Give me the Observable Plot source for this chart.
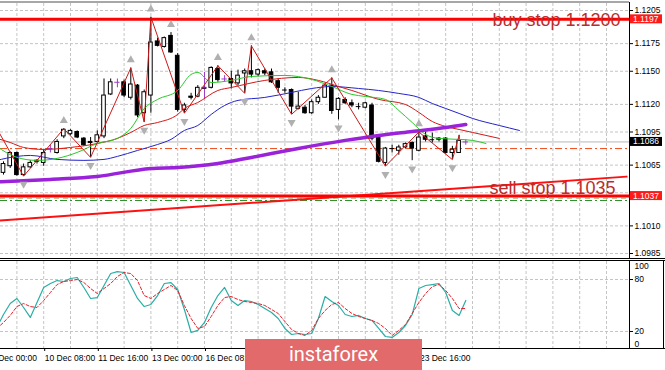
<!DOCTYPE html>
<html><head><meta charset="utf-8">
<script src="https://cdn.jsdelivr.net/npm/d3@7"></script>
<script src="https://cdn.jsdelivr.net/npm/@observablehq/plot@0.6"></script>
<style>
html,body{margin:0;padding:0;background:#fff;}
#wrap{position:relative;width:665px;height:370px;overflow:hidden;background:#fff;}
#main,#sub{position:absolute;left:0;}
#main{top:0;} #sub{top:258px;}
#banner{position:absolute;left:245px;top:339px;width:177px;height:31px;background:#e26a6a;color:#fff;font:20px Roboto,"Open Sans",sans-serif;text-align:center;line-height:30px;}
</style></head><body>
<div id="wrap"><div id="main"></div><div id="sub"></div><div id="banner">instaforex</div></div>
<script>
// ---- data ----
const barIdx = d3.range(2, 72); // bar numbers (H4 bars since 9 Dec 00:00)
const openP = [1.1058,1.1064,1.1076,1.1056,1.1063,1.1068,1.1067,1.1080,1.1076,1.1091,
1.1093,1.1095,1.1089,1.1086,1.1086,1.1091,1.1129,1.1140,1.1140,1.1126,
1.1137,1.1112,1.1128,1.1177,1.1172,1.1182,1.1164,1.1115,1.1127,1.1127,
1.1134,1.1135,1.1152,1.1143,1.1143,1.1139,1.1148,1.1150,1.1147,1.1150,
1.1149,1.1141,1.1133,1.1133,1.1116,1.1117,1.1112,1.1122,1.1126,1.1137,
1.1115,1.1124,1.1121,1.1118,1.1117,1.1119,1.1090,1.1067,1.1080,1.1078,
1.1081,1.1085,1.1078,1.1091,1.1088,1.1088,1.1089,1.1076,1.1076,1.1086];
const highP = [1.1068,1.1077,1.1077,1.1066,1.1069,1.1070,1.1079,1.1083,1.1088,1.1098,
1.1097,1.1096,1.1090,1.1090,1.1096,1.1143,1.1143,1.1143,1.1142,1.1153,
1.1138,1.1133,1.1199,1.1180,1.1181,1.1185,1.1166,1.1121,1.1130,1.1137,
1.1149,1.1154,1.1155,1.1146,1.1150,1.1151,1.1152,1.1173,1.1152,1.1152,
1.1152,1.1143,1.1135,1.1134,1.1131,1.1119,1.1124,1.1128,1.1139,1.1144,
1.1126,1.1126,1.1124,1.1121,1.1122,1.1121,1.1092,1.1081,1.1083,1.1083,
1.1085,1.1086,1.1095,1.1095,1.1094,1.1090,1.1090,1.1082,1.1092,1.1088];
const lowP = [1.1056,1.1062,1.1055,1.1055,1.1062,1.1066,1.1064,1.1076,1.1075,1.1089,
1.1092,1.1089,1.1082,1.1072,1.1085,1.1089,1.1128,1.1135,1.1126,1.1124,
1.1108,1.1104,1.1112,1.1172,1.1171,1.1166,1.1113,1.1112,1.1124,1.1126,
1.1125,1.1134,1.1140,1.1140,1.1134,1.1137,1.1130,1.1144,1.1145,1.1146,
1.1139,1.1130,1.1130,1.1111,1.1115,1.1111,1.1111,1.1120,1.1126,1.1111,
1.1106,1.1120,1.1117,1.1115,1.1116,1.1087,1.1067,1.1064,1.1076,1.1074,
1.1080,1.1069,1.1077,1.1086,1.1085,1.1086,1.1075,1.1070,1.1076,1.1083];
const closeP = [1.1066,1.1076,1.1056,1.1063,1.1067,1.1069,1.1076,1.1080,1.1086,1.1097,
1.1096,1.1090,1.1083,1.1085,1.1092,1.1128,1.1140,1.1140,1.1128,1.1138,
1.1110,1.1131,1.1176,1.1173,1.1180,1.1167,1.1115,1.1119,1.1126,1.1135,
1.1135,1.1153,1.1142,1.1143,1.1139,1.1146,1.1150,1.1147,1.1151,1.1148,
1.1140,1.1135,1.1133,1.1118,1.1118,1.1112,1.1122,1.1126,1.1137,1.1114,
1.1125,1.1121,1.1119,1.1118,1.1121,1.1089,1.1068,1.1080,1.1080,1.1081,
1.1084,1.1080,1.1090,1.1088,1.1088,1.1089,1.1076,1.1079,1.1087,1.1086];
const crossBars = [9, 19, 32, 35, 71];

const lipsIdx = [1,4,7,10,13,16,19,21,23,25,28,30,31,33,36,39,44,48,51,54,56,59,61,63,65,67,70,72,74];
const lipsVal = [1.10819,1.10720,1.10693,1.10711,1.10765,1.10846,1.10892,1.10982,1.11163,1.11245,1.11326,1.11471,1.11489,1.11398,1.11417,1.11453,1.11462,1.11426,1.11362,1.11290,1.11272,1.11245,1.11145,1.11036,1.10928,1.10892,1.10883,1.10874,1.10846];
const teethIdx = [1,3,5,8,12,16,19,21,23,25,28,29,31,34,36,41,46,49,52,54,58,62,64,66,68,70,72,76];
const teethVal = [1.10892,1.10855,1.10810,1.10792,1.10810,1.10846,1.10892,1.10946,1.11009,1.11036,1.11109,1.11163,1.11217,1.11326,1.11353,1.11417,1.11444,1.11417,1.11362,1.11326,1.11245,1.11199,1.11127,1.11045,1.11000,1.10973,1.10946,1.10892];
const jawIdx = [1,4,6,10,14,17,19,22,25,27,29,31,33,35,37,41,45,48,51,55,58,61,64,66,68,70,72,76,79];
const jawVal = [1.10693,1.10729,1.10738,1.10702,1.10693,1.10702,1.10729,1.10783,1.10837,1.10883,1.10964,1.11009,1.11109,1.11190,1.11236,1.11263,1.11308,1.11344,1.11362,1.11344,1.11326,1.11299,1.11263,1.11208,1.11163,1.11118,1.11073,1.11009,1.10964];
const maIdx = [1,9,16,24,28,34,39,46,53,58,63,68,71];
const maVal = [1.10498,1.10521,1.10548,1.10620,1.10629,1.10665,1.10720,1.10801,1.10874,1.10919,1.10955,1.10991,1.11018];
const zzIdx = [0,5,11,15,21,23,24,29,34,38,39,45,51,59,64,69,70];
const zzVal = [1.1109,1.1055,1.1098,1.1072,1.1153,1.1104,1.1199,1.1112,1.1155,1.1130,1.1173,1.1111,1.1144,1.1064,1.1095,1.1070,1.1092];
const fracUp = [11,21,24,27,34,39,51,64];
const fracDn = [5,15,23,29,38,45,52,59,63,69];
const trendIdx = [0, 95];
const trendVal = [1.10143, 1.10546];

const buyStop = 1.1197, sellStop = 1.1037, bidLevel = 1.1086;
const dashLevel = 1.1080, oliveLevel = 1.1035, greenLevel = 1.1033;
const priceGrid = [1.1205,1.1175,1.1150,1.1120,1.1095,1.1065,1.1040,1.1010,1.0985];
const priceLabels = [1.1205,1.1175,1.1150,1.1120,1.1095,1.1065,1.1010,1.0985];
const gridIdx = d3.range(0, 96, 4);
// date labels visible in the picture (the others lie under the banner)
const dateIdx = [0,8,16,24,32,64];
const dateLbl = ["9 Dec 00:00","10 Dec 08:00","11 Dec 16:00","13 Dec 00:00","16 Dec 08:00","23 Dec 16:00"];

const stochIdx = d3.range(1, 72);
const stochK = [24.6,39.6,52.3,58.1,47.7,36.2,53.5,70.8,75.4,78.8,77.7,
81.2,82.3,70.8,58.1,59.2,73.1,86.9,89.2,88.1,73.1,
58.1,48.8,51.2,61.5,75.4,76.5,68.5,45.4,18.8,21.2,
30.4,47.7,61.5,70.8,55.8,50,55.8,54.6,51.2,46.5,
41.9,35,23.5,16.5,17.7,16.5,17.7,35,60.4,54.6,
50,39.6,37.3,38.5,35,32.7,23.5,14.2,13.1,18.8,
26.9,39.6,69.6,73.1,74.2,75.4,65,44.2,38.5,55.8];
const stochD = [23.5,30.4,38.5,48.8,52.3,48.8,47.7,55.8,65,74.2,77.7,
78.8,80,76.5,69.6,63.8,69.6,75.4,83.5,88.1,86.9,
78.8,61.5,58.1,63.8,68.5,73.1,67.3,50,35,23.5,
25.8,37.3,50,59.2,60.4,56.9,54.6,53.5,52.3,50,
45.4,40.8,31.5,22.3,17.7,15.4,21.2,35,44.2,51.2,
53.5,46.5,40.8,37.3,35,32.7,29.2,23.5,15.4,21.2,
28.1,40.8,53.5,63.8,71.9,74.2,67.3,58.1,46.5,46.5];

// ---- tables ----
const bars = barIdx.map((i, j) => ({i, o: openP[j], h: highP[j], l: lowP[j], c: closeP[j]}));
const isCross = d => crossBars.includes(d.i);
const isDoji = d => Math.abs(d.c - d.o) < 0.00005;
const pts = (idx, val) => idx.map((i, j) => ({i, v: val[j]}));
const byI = new Map(bars.map(d => [d.i, d]));
const PURPLE = "#a03cc8";
const grid = {stroke: "#c4c4c4", strokeOpacity: 1, strokeDasharray: "3,2"};
const X = {domain: [0, 95], range: [-10.4, 626.1], axis: null};
const font = "'Liberation Sans', Arial, sans-serif";

const main = Plot.plot({
  width: 665, height: 260,
  marginLeft: 0, marginRight: 36, marginTop: 3, marginBottom: 2,
  x: X,
  y: {domain: [1.0985, 1.1205], range: [253, 10], label: null},
  style: {fontFamily: font, fontSize: "8.5px", color: "#000", background: "#fff"},
  marks: [
    Plot.gridY(priceGrid, grid),
    Plot.gridX(gridIdx, {...grid, clip: true}),
    Plot.ruleY([bidLevel], {stroke: "#b8b8b8"}),
    Plot.ruleY([dashLevel], {stroke: "#f04a1a", strokeDasharray: "7,3,2,3"}),
    Plot.ruleY([oliveLevel], {stroke: "#b4ac7c", strokeDasharray: "5,4"}),
    Plot.ruleY([greenLevel], {stroke: "#2a8f2a", strokeDasharray: "7,3,2,3"}),
    Plot.line(pts(trendIdx, trendVal), {x: "i", y: "v", stroke: "#ff1010", strokeWidth: 2, clip: true}),
    Plot.ruleY([buyStop], {stroke: "#ff0000", strokeWidth: 3}),
    Plot.ruleY([sellStop], {stroke: "#ff0000", strokeWidth: 3}),
    // candles
    Plot.ruleX(bars.filter(d => !isCross(d)), {x: "i", y1: "l", y2: "h", stroke: "#000"}),
    Plot.ruleX(bars.filter(isCross), {x: "i", y1: "l", y2: "h", stroke: PURPLE}),
    Plot.rect(bars.filter(d => !isDoji(d) && d.c > d.o), {x1: d => d.i - 0.27, x2: d => d.i + 0.27, y1: "o", y2: "c", fill: "#fff", stroke: "#000"}),
    Plot.rect(bars.filter(d => !isDoji(d) && d.c < d.o), {x1: d => d.i - 0.27, x2: d => d.i + 0.27, y1: "o", y2: "c", fill: "#000", stroke: "#000"}),
    Plot.ruleY(bars.filter(d => isDoji(d) && !isCross(d)), {y: "c", x1: d => d.i - 0.35, x2: d => d.i + 0.35, stroke: "#000"}),
    Plot.ruleY(bars.filter(isCross), {y: "c", x1: d => d.i - 0.4, x2: d => d.i + 0.4, stroke: PURPLE}),
    // indicators
    Plot.line(pts(jawIdx, jawVal), {x: "i", y: "v", stroke: "#2424c8", strokeWidth: 1, curve: "monotone-x", clip: true}),
    Plot.line(pts(teethIdx, teethVal), {x: "i", y: "v", stroke: "#d41818", strokeWidth: 1, curve: "monotone-x", clip: true}),
    Plot.line(pts(lipsIdx, lipsVal), {x: "i", y: "v", stroke: "#28c828", strokeWidth: 1, curve: "monotone-x", clip: true}),
    Plot.line(pts(maIdx, maVal), {x: "i", y: "v", stroke: "#9a22d8", strokeWidth: 3.5, curve: "monotone-x", clip: true}),
    Plot.line(pts(zzIdx, zzVal), {x: "i", y: "v", stroke: "#cc1818", strokeWidth: 1, clip: true}),
    Plot.dot(fracUp.map(i => byI.get(i)), {x: "i", y: "h", dy: -8, symbol: "triangle", r: 3, fill: "#b0b0b0"}),
    Plot.dot(fracDn.map(i => byI.get(i)), {x: "i", y: "l", dy: 8, symbol: "triangle", rotate: 180, r: 3, fill: "#b0b0b0"}),
    Plot.text([{v: buyStop, t: "buy stop 1.1200"}], {y: "v", text: "t", frameAnchor: "right", textAnchor: "end", dx: -9, dy: 1, fontSize: 18, fill: "#bb2c2c"}),
    Plot.text([{v: sellStop, t: "sell stop 1.1035"}], {y: "v", text: "t", frameAnchor: "right", textAnchor: "end", dx: -14, dy: -7.4, fontSize: 18, fill: "#bb2c2c"}),
    Plot.axisY(priceLabels, {anchor: "right", tickSize: 3, tickPadding: 2, tickFormat: d => d.toFixed(4), fontSize: 8.5, label: null})
  ]
});
document.getElementById("main").append(main);

// price boxes and window frame
{
  const yS = main.scale("y");
  const svg = d3.select(main);
  const boxes = [{v: buyStop, bg: "#ff1a1a"}, {v: sellStop, bg: "#ff1a1a"}, {v: bidLevel, bg: "#000"}];
  for (const b of boxes) {
    const y = yS.apply(b.v);
    svg.append("rect").attr("x", 630).attr("y", y - 4.5).attr("width", 32).attr("height", 9).attr("fill", b.bg);
    svg.append("text").attr("x", 633).attr("y", y + 3).attr("text-anchor", "start").attr("fill", "#fff")
      .attr("font-size", 8.5).attr("font-family", font).text(b.v.toFixed(4));
  }
  svg.append("line").attr("x1", 0).attr("x2", 629).attr("y1", 2).attr("y2", 2).attr("stroke", "#8a8a8a").attr("stroke-width", 1.5);
  svg.append("line").attr("x1", 629.5).attr("x2", 629.5).attr("y1", 2).attr("y2", 258).attr("stroke", "#000");
  svg.append("line").attr("x1", 0).attr("x2", 665).attr("y1", 258.5).attr("y2", 258.5).attr("stroke", "#000");
}

const sub = Plot.plot({
  width: 665, height: 112,
  marginLeft: 0, marginRight: 36, marginTop: 3, marginBottom: 22,
  x: {domain: [0, 95], range: [-10.4, 626.1]},
  y: {domain: [0, 100], range: [90.3, 3.7], label: null},
  style: {fontFamily: font, fontSize: "8.5px", color: "#000", background: "transparent"},
  marks: [
    Plot.gridY([20, 80], grid),
    Plot.gridX(gridIdx, {...grid, clip: true}),
    Plot.line(pts(stochIdx, stochK), {x: "i", y: "v", stroke: "#2aaea6", strokeWidth: 1.2, clip: true}),
    Plot.line(pts(stochIdx, stochD), {x: "i", y: "v", stroke: "#e8202a", strokeWidth: 1, strokeDasharray: "3,2", clip: true}),
    Plot.axisY([80, 20], {anchor: "right", tickSize: 3, tickPadding: 2, fontSize: 8.5, label: null}),
    Plot.text([100], {y: d => d, text: d => String(d), frameAnchor: "right", textAnchor: "start", dx: 5, dy: 4.3, fontSize: 8.5}),
    Plot.text([0], {y: d => d, text: d => String(d), frameAnchor: "right", textAnchor: "start", dx: 5, dy: -4.3, fontSize: 8.5}),
    Plot.axisX(dateIdx, {anchor: "bottom", tickSize: 3, tickPadding: 3, textAnchor: "start", dx: 1, fontSize: 8.5, label: null, tickFormat: i => dateLbl[dateIdx.indexOf(i)]})
  ]
});
document.getElementById("sub").append(sub);
{
  const svg = d3.select(sub);
  svg.append("line").attr("x1", 0).attr("x2", 665).attr("y1", 2.5).attr("y2", 2.5).attr("stroke", "#000");
  svg.append("line").attr("x1", 629.5).attr("x2", 629.5).attr("y1", 2.5).attr("y2", 90.5).attr("stroke", "#000");
  svg.append("line").attr("x1", 0).attr("x2", 665).attr("y1", 90.5).attr("y2", 90.5).attr("stroke", "#000");
  svg.append("line").attr("x1", 663.5).attr("x2", 663.5).attr("y1", 2.5).attr("y2", 90.5).attr("stroke", "#000");
}
</script>
</body></html>
